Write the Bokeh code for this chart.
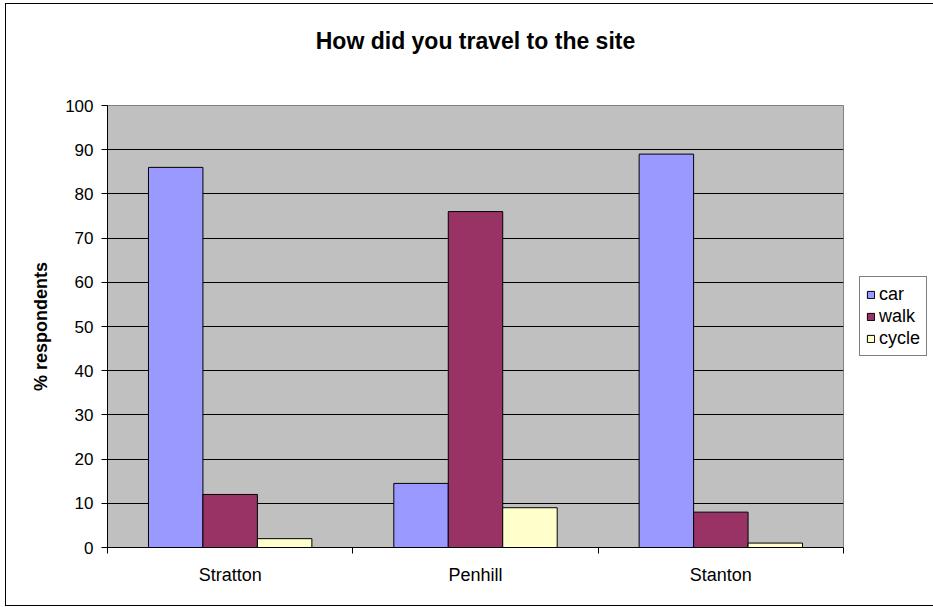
from bokeh.plotting import figure
from bokeh.models import ColumnDataSource, Range1d, FixedTicker, Legend, LegendItem, Title
from bokeh.transform import dodge
from bokeh.embed import file_html
from bokeh.resources import INLINE

# ---- data ----
sites = ["Stratton", "Penhill", "Stanton"]
car = [86, 14.5, 89]
walk = [12, 76, 8]
cycle = [2, 9, 1]
series_names = ["car", "walk", "cycle"]
y_ticks = [0, 10, 20, 30, 40, 50, 60, 70, 80, 90, 100]

FONT = "Liberation Sans"
centers = [i + 0.5 for i in range(len(sites))]
src = ColumnDataSource(dict(x=centers, car=car, walk=walk, cycle=cycle))

p = figure(frame_width=736, frame_height=442, output_backend="svg", toolbar_location=None,
           x_range=Range1d(0, len(sites)), y_range=Range1d(0, 100),
           min_border_left=101, min_border_right=87, min_border_top=101, min_border_bottom=58)

p.styles = {"border": "1px solid black", "margin-left": "5px", "margin-top": "3px"}
p.background_fill_color = "#C0C0C0"
p.border_fill_color = "white"
p.outline_line_color = "#808080"
p.outline_line_width = 1

# title (with an empty spacer title between it and the frame)
p.title.text = "How did you travel to the site"
p.title.align = "center"
p.title.vertical_align = "top"
p.title.text_font = FONT
p.title.text_font_size = "23px"
p.title.text_font_style = "bold"
p.title.text_color = "black"
p.title.standoff = 0
p.add_layout(Title(text=" ", text_font_size="1px", standoff=47), "above")

bw = 0.222
colors = ["#9999FF", "#993366", "#FFFFCC"]
offsets = [-bw, 0.0, bw]
renderers = []
for name, col, off in zip(series_names, colors, offsets):
    r = p.vbar(x=dodge("x", off, range=p.x_range), top=name, width=bw, bottom=0,
               source=src, fill_color=col, line_color="black", line_width=1)
    renderers.append(r)

# grid
p.xgrid.grid_line_color = None
p.ygrid.grid_line_color = "black"
p.ygrid.grid_line_width = 1
p.ygrid.ticker = FixedTicker(ticks=y_ticks)

# y axis
p.yaxis.ticker = FixedTicker(ticks=y_ticks)
p.yaxis.axis_label = "% respondents"
p.yaxis.axis_label_text_font = FONT
p.yaxis.axis_label_text_font_size = "18px"
p.yaxis.axis_label_text_font_style = "bold"
p.yaxis.axis_label_text_color = "black"
p.yaxis.axis_label_standoff = 11
p.yaxis.major_label_text_font = FONT
p.yaxis.major_label_text_font_size = "17px"
p.yaxis.major_label_text_color = "black"
p.yaxis.major_label_standoff = 8
p.yaxis.major_tick_out = 6
p.yaxis.major_tick_in = 0
p.yaxis.minor_tick_line_color = None
p.yaxis.axis_line_color = "black"
p.yaxis.major_tick_line_color = "black"

# x axis
p.xaxis.ticker = FixedTicker(ticks=centers, minor_ticks=list(range(len(sites) + 1)))
p.xaxis.major_label_overrides = {c: s for c, s in zip(centers, sites)}
p.xaxis.major_label_text_font = FONT
p.xaxis.major_label_text_font_size = "18px"
p.xaxis.major_label_text_color = "black"
p.xaxis.major_label_standoff = 11
p.xaxis.major_tick_line_color = None
p.xaxis.major_tick_out = 0
p.xaxis.major_tick_in = 0
p.xaxis.minor_tick_line_color = "black"
p.xaxis.minor_tick_out = 6
p.xaxis.minor_tick_in = 0
p.xaxis.axis_line_color = "black"

# legend (right side panel)
legend = Legend(items=[LegendItem(label=n, renderers=[r]) for n, r in zip(series_names, renderers)],
                location=(16, 191))
legend.label_text_font = FONT
legend.label_text_font_size = "18px"
legend.label_text_color = "black"
legend.label_height = 22
legend.glyph_height = 9
legend.glyph_width = 9
legend.spacing = 0
legend.padding = 6
legend.margin = 0
legend.label_standoff = 4
legend.border_line_color = "black"
legend.border_line_width = 1
legend.background_fill_color = "white"
legend.background_fill_alpha = 1
p.add_layout(legend, "right")

open("out.html", "w").write(file_html(p, INLINE))
